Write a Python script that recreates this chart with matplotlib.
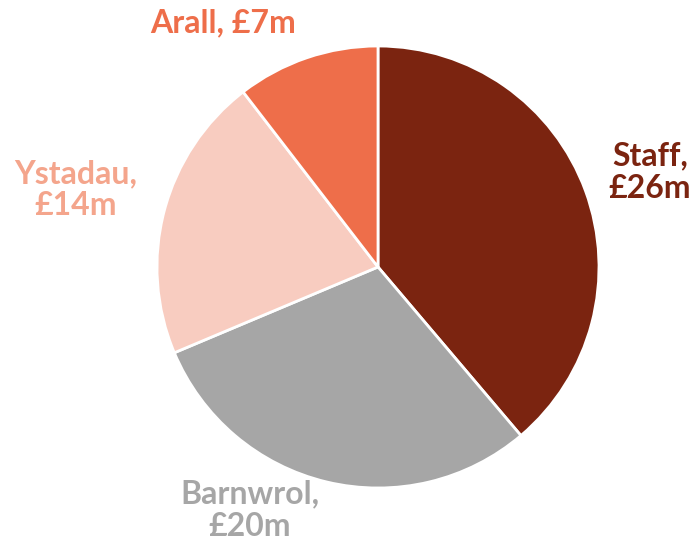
import matplotlib.pyplot as plt

# Spend by category (£m)
categories = ["Staff", "Barnwrol", "Ystadau", "Arall"]
values = [26, 20, 14, 7]
label_text = ["Staff,\n£26m", "Barnwrol,\n£20m", "Ystadau,\n£14m", "Arall, £7m"]

slice_colors = ["#7B2410", "#A6A6A6", "#F8CCC0", "#EE6E4A"]
label_colors = ["#7B2410", "#A6A6A6", "#F4A58C", "#EE6E4A"]
# label positions in pie units (placed by hand, like the original)
label_pos = [(1.23, 0.43), (-0.58, -1.10), (-1.37, 0.35), (-0.70, 1.105)]

plt.rcParams['font.family'] = ['Lato', 'DejaVu Sans']

fig = plt.figure(figsize=(6.9, 5.46), dpi=100)
cx, cy, r = 378, 267, 221
ax = fig.add_axes([(cx - r) / 690, (546 - cy - r) / 546, 2 * r / 690, 2 * r / 546])

ax.pie(values, colors=slice_colors, startangle=90, counterclock=False,
       wedgeprops=dict(edgecolor="white", linewidth=2))
ax.set_xlim(-1, 1)
ax.set_ylim(-1, 1)

for txt, col, (x, y) in zip(label_text, label_colors, label_pos):
    ax.text(x, y, txt, color=col, fontsize=23, fontweight="bold",
            ha="center", va="center", linespacing=1.15, clip_on=False)

fig.savefig("out.png", dpi=100)
